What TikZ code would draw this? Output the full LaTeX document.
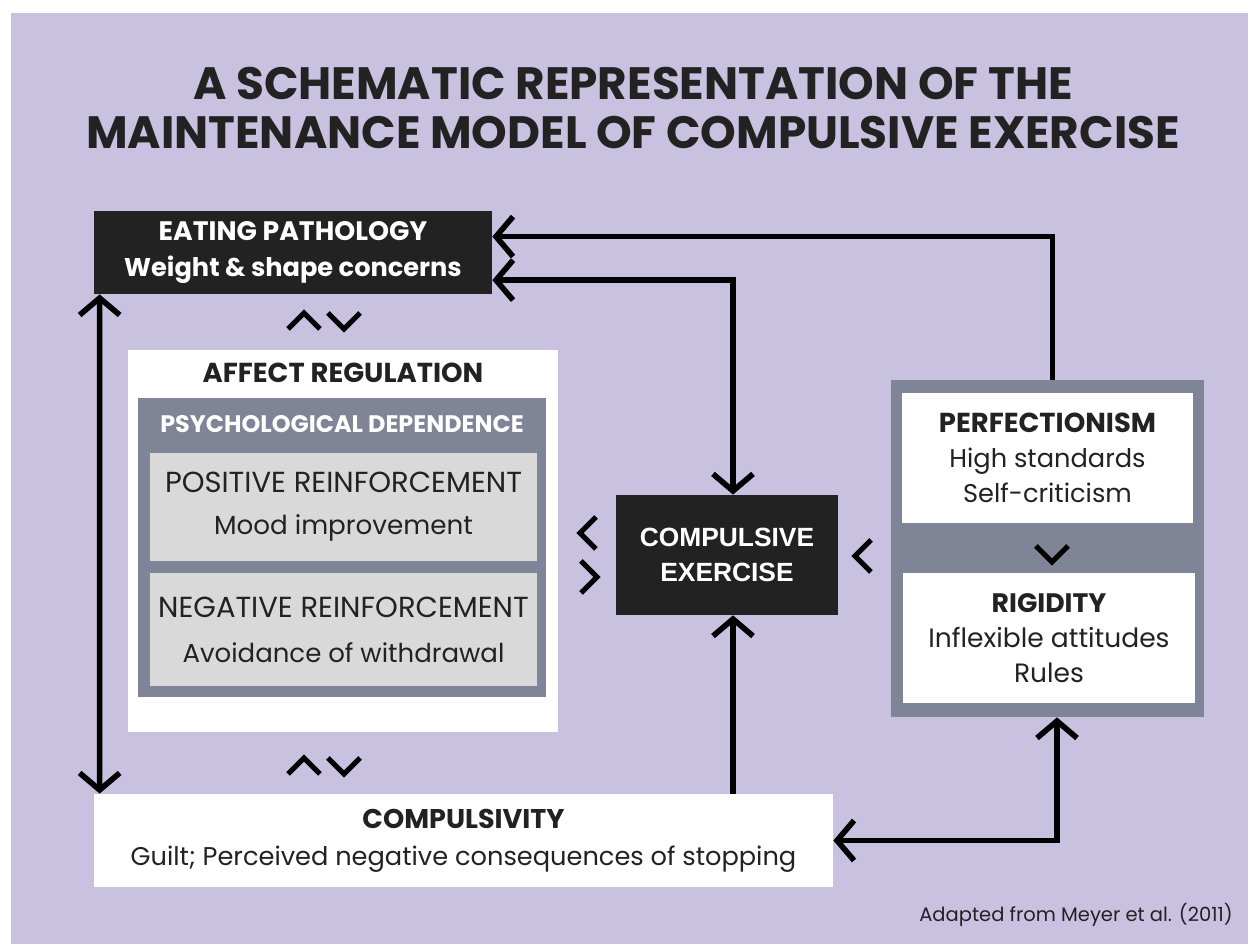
\documentclass[tikz,border=0pt]{standalone}
\usepackage{fontspec}
\setmainfont{Poppins}
\newfontfamily\arialfont{Liberation Sans}
\usetikzlibrary{calc}
\usetikzlibrary{positioning}
\usetikzlibrary{arrows.meta}

\definecolor{lavender}{RGB}{200,194,224}
\definecolor{boxdark}{RGB}{34,34,34}
\definecolor{slate}{RGB}{127,133,150}
\definecolor{palegray}{RGB}{217,217,217}
\definecolor{ink}{RGB}{34,34,34}

% font size, keeping the line distance of the node
\newcommand\sz[1]{\fontsize{#1}{\baselineskip}\selectfont}

\tikzset{
  box/.style={rectangle, inner sep=0pt, align=center, text=ink},
  darkbox/.style={box, fill=boxdark, text=white},
  whitebox/.style={box, fill=white},
  slatebox/.style={box, fill=slate},
  greybox/.style={box, fill=palegray},
  link/.style={line width=3.2pt, black},
  chevron/.style={line width=3pt, black},
}

\begin{document}
\begin{tikzpicture}[>={Straight Barb[length=0.34cm,width=0.8cm]}]
    \path[use as bounding box] (0,0) rectangle (24.96,18.88);
    % Background.
    \fill[lavender] (0.22,0) rectangle (24.96,18.62);
    % Title.
    \node[font={\fontsize{25.8}{28.4}\selectfont\bfseries}, text=ink, align=center] (title) at (12.66,16.72)
      {A SCHEMATIC REPRESENTATION OF THE\\MAINTENANCE MODEL OF COMPULSIVE EXERCISE};
    % Boxes.
    \node[darkbox, minimum width=7.96cm, minimum height=1.66cm, font={\fontsize{14.6}{20.4}\selectfont\bfseries}] (ep) at (5.86,13.83)
      {\sz{15.2}EATING PATHOLOGY\\Weight \& shape concerns};
    \node[whitebox, minimum width=8.6cm, minimum height=7.64cm] (ar) at (6.86,8.06) {};
    \node[box, below=0.26cm of ar.north, font={\fontsize{15.6}{18}\selectfont\bfseries}] (artitle) {AFFECT REGULATION};
    \node[slatebox, minimum width=8.16cm, minimum height=5.98cm] (pd) at (6.84,7.93) {};
    \node[box, text=white, below=0.34cm of pd.north, font={\fontsize{13.6}{16}\selectfont\bfseries}] (pdtitle) {PSYCHOLOGICAL DEPENDENCE};
    \node[greybox, minimum width=7.74cm, minimum height=2.16cm, font={\fontsize{14.9}{23.8}\selectfont}] (pos) at (6.87,8.74)
      {\sz{16.5}POSITIVE REINFORCEMENT\\Mood improvement};
    \node[greybox, minimum width=7.74cm, minimum height=2.26cm, font={\fontsize{14.8}{25.5}\selectfont}] (neg) at (6.87,6.29)
      {\sz{16.5}NEGATIVE REINFORCEMENT\\Avoidance of withdrawal};
    \node[darkbox, minimum width=4.44cm, minimum height=2.4cm, font={\fontsize{15}{19.8}\selectfont\arialfont\bfseries}] (ce) at (14.54,7.78)
      {COMPULSIVE\\EXERCISE};
    \node[slatebox, minimum width=6.26cm, minimum height=6.74cm] (perfout) at (20.95,7.91) {};
    \node[whitebox, minimum width=5.82cm, minimum height=2.6cm, font={\fontsize{14.6}{19.8}\selectfont}] (perf) at (20.95,9.72)
      {\sz{15.6}\textbf{PERFECTIONISM}\\High standards\\Self-criticism};
    \node[whitebox, minimum width=5.84cm, minimum height=2.6cm, font={\fontsize{15.1}{19.8}\selectfont}] (rigid) at (20.98,6.12)
      {\sz{15.2}\textbf{RIGIDITY}\\Inflexible attitudes\\Rules};
    \node[whitebox, minimum width=14.78cm, minimum height=1.86cm, font={\fontsize{14.6}{21}\selectfont}] (comp) at (9.27,2.07)
      {\sz{15.4}\textbf{COMPULSIVITY}\\Guilt; Perceived negative consequences of stopping};
    % Source.
    \node[anchor=east, inner sep=0pt, text=ink, font={\fontsize{11.1}{12}\selectfont}] (source) at (24.66,0.58) {Adapted from Meyer et al. (2011)};
    % Arrows.
    \draw[link,->] ([xshift=0.1cm]perfout.north) |- ($(ep.north east)!0.31!(ep.south east)$);
    \draw[link,<->] ($(ep.north east)!0.83!(ep.south east)$) -| ([xshift=0.12cm]ce.north);
    \draw[link,->] ([xshift=0.12cm]ce.south |- comp.north) -- ([xshift=0.12cm]ce.south);
    \draw[link,<->] ([xshift=0.12cm]ep.south west) -- ([xshift=0.12cm]comp.north west);
    \draw[link,<->] (comp.east) -| ([xshift=0.19cm]perfout.south);
    % Chevrons.
    \foreach \x/\y/\r in {6.08/12.46/0, 6.88/12.46/180, 6.08/3.56/0, 6.88/3.56/180,
                          11.76/8.22/90, 11.78/7.34/-90, 17.26/7.76/90, 21.04/7.8/180}
      \draw[chevron, shift={(\x,\y)}, rotate=\r] (-0.32,-0.16) -- (0,0.16) -- (0.32,-0.16);
\end{tikzpicture}
\end{document}
